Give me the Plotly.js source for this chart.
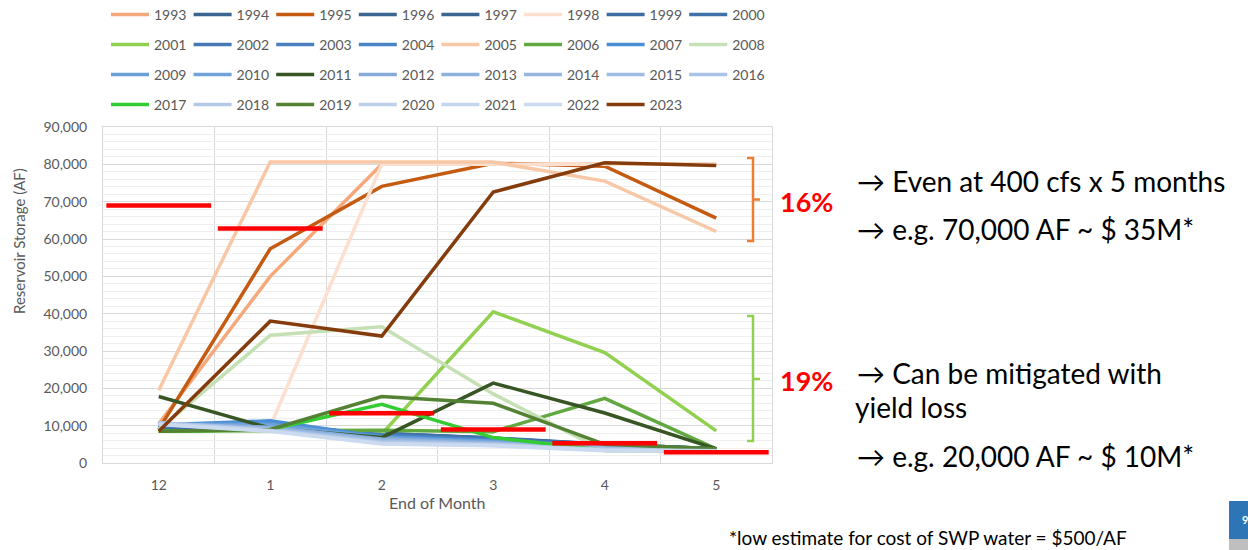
<!DOCTYPE html>
<html><head><meta charset="utf-8">
<script src="https://cdn.plot.ly/plotly-3.0.1.min.js"></script>
<style>html,body{margin:0;padding:0;background:#fff;overflow:hidden;} #chart{width:1248px;height:550px;}</style>
</head><body><div id="chart"></div>
<script>
// ---- Data ----
const months = ['12', '1', '2', '3', '4', '5'];
const years = ['1993','1994','1995','1996','1997','1998','1999','2000',
               '2001','2002','2003','2004','2005','2006','2007','2008',
               '2009','2010','2011','2012','2013','2014','2015','2016',
               '2017','2018','2019','2020','2021','2022','2023'];
const y1993 = [10500, 50000, 80000, 80000, 80000, 80000];
const y1994 = [9600, 9400, 7800, 6600, 5000, 3800];
const y1995 = [9000, 57400, 74100, 80300, 79500, 65600];
const y1996 = [9400, 9300, 7600, 6400, 4900, 3800];
const y1997 = [9300, 9500, 7700, 6500, 4800, 3700];
const y1998 = [9500, 9800, 80000, 80000, 80000, 80000];
const y1999 = [9500, 9600, 7900, 6700, 5000, 3800];
const y2000 = [9700, 9800, 8000, 6600, 4900, 3800];
const y2001 = [8500, 9000, 7800, 40500, 29600, 8600];
const y2002 = [9800, 10200, 7600, 6300, 4700, 3700];
const y2003 = [9900, 10500, 7400, 6200, 4600, 3700];
const y2004 = [10000, 10800, 7200, 6000, 4500, 3600];
const y2005 = [19500, 80600, 80600, 80600, 75500, 62000];
const y2006 = [8500, 8700, 8800, 8400, 17300, 3800];
const y2007 = [10200, 11300, 7000, 5900, 4400, 3600];
const y2008 = [9000, 34200, 36500, 18500, 3200, 3000];
const y2009 = [10300, 10400, 6800, 5800, 4300, 3600];
const y2010 = [10400, 10000, 6600, 5600, 4200, 3500];
const y2011 = [17800, 9300, 6800, 21400, 13400, 3800];
const y2012 = [10500, 9600, 6400, 5400, 4100, 3500];
const y2013 = [10600, 9400, 6200, 5300, 4000, 3500];
const y2014 = [10700, 9200, 6000, 5200, 3900, 3400];
const y2015 = [10700, 9000, 5800, 5100, 3800, 3400];
const y2016 = [10800, 8900, 5600, 5000, 3700, 3400];
const y2017 = [8500, 9000, 15700, 6800, 3400, 3500];
const y2018 = [10600, 8800, 5400, 4900, 3600, 3300];
const y2019 = [8500, 9000, 17800, 16000, 5000, 3800];
const y2020 = [10500, 8700, 5300, 4800, 3500, 3300];
const y2021 = [10400, 8600, 5200, 4700, 3400, 3300];
const y2022 = [10300, 8500, 5100, 4600, 3300, 3200];
const y2023 = [8500, 38000, 34000, 72600, 80400, 79700];
const targetStorage = [69000, 62800, 13300, 9000, 5300, 2900];

// ---- Styles ----
const seriesValues = [y1993,y1994,y1995,y1996,y1997,y1998,y1999,y2000,
  y2001,y2002,y2003,y2004,y2005,y2006,y2007,y2008,
  y2009,y2010,y2011,y2012,y2013,y2014,y2015,y2016,
  y2017,y2018,y2019,y2020,y2021,y2022,y2023];
const colors = ['#f4a97c','#3a6591','#c55a11','#3a6591','#3a6591','#fbe0cf','#3d6ca1','#3f70a8',
  '#92d050','#4679b2','#4a80bd','#4a84c4','#f8c8a6','#62a840','#4a8fd6','#c5e0b4',
  '#6a9fd8','#70a4da','#375623','#86abdb','#8fb1de','#97b7e0','#9fbde3','#a9c3e6',
  '#33cc33','#b4c9e8','#548235','#bccfeb','#c4d5ee','#ccdaf0','#843c0c'];

const FONT = 'Lato, "Liberation Sans", sans-serif';
const GRAY = '#595959';
const L = 103, R = 772, T = 127, B = 463, W = 1248, H = 550;
const px = v => (v - L) / (R - L);
const py = v => (B - v) / (B - T);

const xIdx = months.map((m, i) => i);
const legendNames = ['legend', 'legend2', 'legend3', 'legend4'];

const traces = years.map((yr, k) => ({
  type: 'scatter', mode: 'lines', name: yr,
  x: xIdx, y: seriesValues[k],
  line: {color: colors[k], width: 3.5},
  legend: legendNames[Math.floor(k / 8)],
  hoverinfo: 'x+y+name'
}));

// red target segments spanning each month band
const segX = [], segY = [];
targetStorage.forEach((v, i) => { segX.push(i - 0.47, i + 0.47, null); segY.push(v, v, null); });
traces.push({type: 'scatter', mode: 'lines', x: segX, y: segY, showlegend: false,
  line: {color: '#ff0000', width: 4.5}, hoverinfo: 'y'});

const rowY = [15, 45, 75, 105];
const layout = {
  width: W, height: H,
  margin: {l: L, r: W - R, t: T, b: H - B, pad: 0, autoexpand: false},
  paper_bgcolor: '#ffffff', plot_bgcolor: '#ffffff',
  font: {family: FONT, color: GRAY},
  showlegend: true,
  xaxis: {
    range: [-0.5, 5.5], tickmode: 'array', tickvals: xIdx, ticktext: months,
    showgrid: false, zeroline: false, showline: true, mirror: true, linecolor: '#d9d9d9', linewidth: 1,
    ticks: '', ticklabelstandoff: 9, tickfont: {family: FONT, size: 14, color: GRAY},
    minor: {tickmode: 'linear', tick0: 0.5, dtick: 1, showgrid: true, gridcolor: '#d9d9d9', gridwidth: 1, ticks: ''},
    fixedrange: true, automargin: false
  },
  yaxis: {
    range: [0, 90000], dtick: 10000, tickformat: ',d',
    showgrid: true, gridcolor: '#d9d9d9', gridwidth: 1, zeroline: false,
    showline: true, mirror: true, linecolor: '#d9d9d9', linewidth: 1,
    ticks: '', ticklabelstandoff: 12, tickfont: {family: FONT, size: 14, color: GRAY},
    minor: {dtick: 2000, showgrid: true, gridcolor: '#efefef', gridwidth: 1, ticks: ''},
    fixedrange: true, automargin: false
  },
  shapes: [
    {type: 'path', xref: 'paper', yref: 'paper',
     path: `M ${px(747)},${py(158)} L ${px(753)},${py(158)} L ${px(753)},${py(241)} L ${px(747)},${py(241)} M ${px(753)},${py(199.5)} L ${px(760)},${py(199.5)}`,
     line: {color: '#ed7d31', width: 2.5}},
    {type: 'path', xref: 'paper', yref: 'paper',
     path: `M ${px(747)},${py(316)} L ${px(753)},${py(316)} L ${px(753)},${py(441)} L ${px(747)},${py(441)} M ${px(753)},${py(379)} L ${px(760)},${py(379)}`,
     line: {color: '#92d050', width: 2.5}},
    {type: 'rect', xref: 'paper', yref: 'paper', x0: px(1229), x1: px(1250), y0: py(501), y1: py(539),
     fillcolor: '#2e75b6', line: {width: 0}},
    {type: 'rect', xref: 'paper', yref: 'paper', x0: px(1229), x1: px(1250), y0: py(539), y1: py(552),
     fillcolor: '#bfbfbf', line: {width: 0}}
  ],
  annotations: [
    {xref: 'paper', yref: 'paper', x: px(19), y: py(241), text: 'Reservoir Storage (AF)', textangle: -90,
     showarrow: false, xanchor: 'center', yanchor: 'middle', font: {family: FONT, size: 15, color: GRAY}},
    {xref: 'paper', yref: 'paper', x: px(437), y: py(502), text: 'End of Month',
     showarrow: false, xanchor: 'center', yanchor: 'middle', font: {family: FONT, size: 16, color: GRAY}},
    {xref: 'paper', yref: 'paper', x: px(778), y: py(201), text: '<b>16%</b>',
     showarrow: false, xanchor: 'left', yanchor: 'middle', font: {family: FONT, size: 27, color: '#ff0000'}},
    {xref: 'paper', yref: 'paper', x: px(778), y: py(380), text: '<b>19%</b>',
     showarrow: false, xanchor: 'left', yanchor: 'middle', font: {family: FONT, size: 27, color: '#ff0000'}},
    {xref: 'paper', yref: 'paper', x: px(855), y: py(181), text: '→ Even at 400 cfs x 5 months',
     showarrow: false, xanchor: 'left', yanchor: 'middle', font: {family: FONT, size: 28, color: '#000000'}},
    {xref: 'paper', yref: 'paper', x: px(855), y: py(229), text: '→ e.g. 70,000 AF ~ $ 35M*',
     showarrow: false, xanchor: 'left', yanchor: 'middle', font: {family: FONT, size: 28, color: '#000000'}},
    {xref: 'paper', yref: 'paper', x: px(855), y: py(373), text: '→ Can be mitigated with',
     showarrow: false, xanchor: 'left', yanchor: 'middle', font: {family: FONT, size: 28, color: '#000000'}},
    {xref: 'paper', yref: 'paper', x: px(853), y: py(407), text: 'yield loss',
     showarrow: false, xanchor: 'left', yanchor: 'middle', font: {family: FONT, size: 28, color: '#000000'}},
    {xref: 'paper', yref: 'paper', x: px(855), y: py(456), text: '→ e.g. 20,000 AF ~ $ 10M*',
     showarrow: false, xanchor: 'left', yanchor: 'middle', font: {family: FONT, size: 28, color: '#000000'}},
    {xref: 'paper', yref: 'paper', x: px(727), y: py(537), text: '*low estimate for cost of SWP water = $500/AF',
     showarrow: false, xanchor: 'left', yanchor: 'middle', font: {family: FONT, size: 19, color: '#000000'}},
    {xref: 'paper', yref: 'paper', x: px(1240), y: py(519), text: '<b>9</b>',
     showarrow: false, xanchor: 'left', yanchor: 'middle', font: {family: FONT, size: 11, color: '#ffffff'}}
  ]
};
legendNames.forEach((nm, i) => {
  layout[nm] = {
    orientation: 'h', x: px(106), xanchor: 'left', y: py(rowY[i]), yanchor: 'middle',
    font: {family: FONT, size: 14, color: GRAY},
    itemwidth: 38, entrywidth: 29.6, entrywidthmode: 'pixels',
    bgcolor: 'rgba(0,0,0,0)', tracegroupgap: 0
  };
});

Plotly.newPlot('chart', traces, layout, {displayModeBar: false, staticPlot: true});
</script></body></html>
